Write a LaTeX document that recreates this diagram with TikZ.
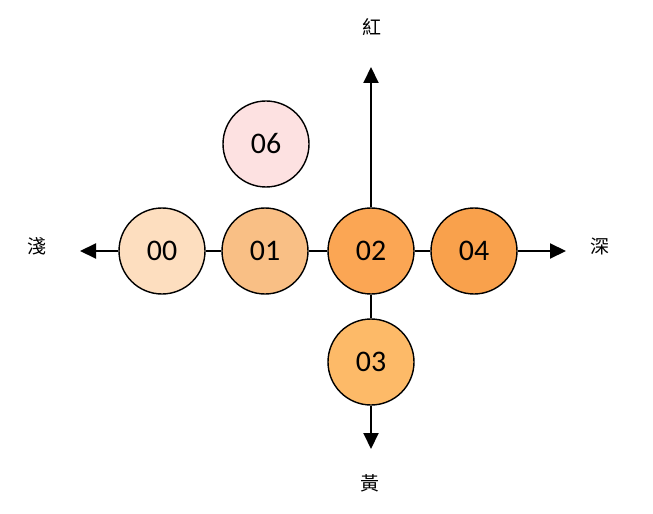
\documentclass[tikz,border=0pt]{standalone}
\usepackage{fontspec}
\setmainfont{Carlito}
\newfontfamily\cjkfont{Noto Sans CJK TC}
\usetikzlibrary{arrows.meta}
\definecolor{c00}{HTML}{FDDEBF}
\definecolor{c01}{HTML}{F9BF85}
\definecolor{c02}{HTML}{FBA654}
\definecolor{c03}{HTML}{FDBA68}
\definecolor{c04}{HTML}{F9A14C}
\definecolor{c06}{HTML}{FDE1E1}
\tikzset{
  ball/.style={circle, draw=black, line width=1.4bp, minimum size=86bp, inner sep=0pt, font=\fontsize{30}{30}\selectfont},
  axis/.style={line width=2bp, -{Triangle[length=16bp,width=15bp]}},
  link/.style={line width=2bp},
  axlabel/.style={font=\cjkfont\fontsize{19}{19}\selectfont, inner sep=0pt}
}
\begin{document}
\begin{tikzpicture}[x=1bp,y=-1bp]
\useasboundingbox (0,0) rectangle (653,514);
\node[ball, fill=c00] (n00) at (162,251) {00};
\node[ball, fill=c01] (n01) at (265,251) {01};
\node[ball, fill=c02] (n02) at (371,251) {02};
\node[ball, fill=c04] (n04) at (474,251) {04};
\node[ball, fill=c03] (n03) at (371,362) {03};
\node[ball, fill=c06] (n06) at (266,144) {06};
\coordinate (left) at (80,251);
\coordinate (right) at (566,251);
\coordinate (top) at (371,67);
\coordinate (bottom) at (371,449);
\node[axlabel] (lred) at (372,27) {紅};
\node[axlabel] (llight) at (37,246) {淺};
\node[axlabel] (ldark) at (600,246) {深};
\node[axlabel] (lyel) at (370,483) {黃};
\draw[axis] (n00.west) -- (left);
\draw[axis] (n04.east) -- (right);
\draw[axis] (n02.north) -- (top);
\draw[axis] (n03.south) -- (bottom);
\draw[link] (n00) -- (n01);
\draw[link] (n01) -- (n02);
\draw[link] (n02) -- (n04);
\draw[link] (n02) -- (n03);
\end{tikzpicture}
\end{document}
